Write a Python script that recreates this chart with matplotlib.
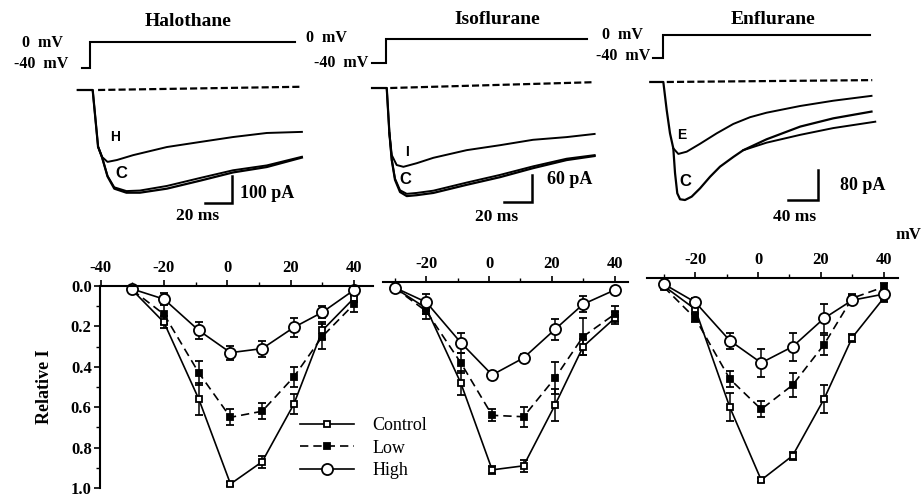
import matplotlib
matplotlib.use('Agg')
import matplotlib.pyplot as plt
from matplotlib.lines import Line2D

# ---------------- data: I-V curves (relative current) ----------------
volts = [-30, -20, -9, 1, 11, 21, 30, 40]

hal_ctrl = [0.02, 0.18, 0.56, 0.98, 0.87, 0.585, 0.22, 0.06]
hal_ctrl_err = [0.01, 0.03, 0.08, 0.01, 0.03, 0.05, 0.04, 0.02]
hal_low = [0.02, 0.14, 0.43, 0.65, 0.62, 0.45, 0.25, 0.09]
hal_low_err = [0.01, 0.05, 0.06, 0.04, 0.04, 0.05, 0.06, 0.04]
hal_high = [0.015, 0.065, 0.22, 0.33, 0.31, 0.205, 0.13, 0.02]
hal_high_err = [0.01, 0.03, 0.04, 0.035, 0.04, 0.045, 0.03, 0.01]

iso_ctrl = [0.03, 0.13, 0.50, 0.93, 0.91, 0.61, 0.32, 0.18]
iso_ctrl_err = [0.01, 0.03, 0.06, 0.02, 0.03, 0.08, 0.04, 0.03]
iso_low = [0.03, 0.145, 0.40, 0.66, 0.667, 0.476, 0.27, 0.16]
iso_low_err = [0.01, 0.04, 0.05, 0.03, 0.05, 0.08, 0.09, 0.04]
iso_high = [0.028, 0.10, 0.30, 0.46, 0.376, 0.235, 0.11, 0.04]
iso_high_err = [0.01, 0.04, 0.05, 0.02, 0.02, 0.05, 0.04, 0.01]

enf_ctrl = [0.04, 0.155, 0.64, 1.0, 0.88, 0.60, 0.295, 0.10]
enf_ctrl_err = [0.01, 0.02, 0.07, 0.01, 0.02, 0.07, 0.02, 0.02]
enf_low = [0.045, 0.20, 0.50, 0.65, 0.53, 0.33, 0.10, 0.045]
enf_low_err = [0.01, 0.02, 0.04, 0.04, 0.06, 0.05, 0.02, 0.02]
enf_high = [0.03, 0.12, 0.31, 0.42, 0.34, 0.20, 0.11, 0.08]
enf_high_err = [0.01, 0.02, 0.04, 0.07, 0.07, 0.07, 0.02, 0.02]

x_major = [-40, -20, 0, 20, 40]
x_minor = [-30, -10, 10, 30]
y_major = [0.0, 0.2, 0.4, 0.6, 0.8, 1.0]
y_labels = ['0.0', '0.2', '0.4', '0.6', '0.8', '1.0']
y_minor = [0.1, 0.3, 0.5, 0.7, 0.9]
series_labels = ['Control', 'Low', 'High']

# ---------------- data: current traces (ms, pA) ----------------
hal_t_ctrl = [-9, 2, 6, 9, 13, 18, 27, 37, 57, 82, 106, 131, 157]
hal_i_ctrl = [0, 0, -210, -250, -320, -365, -380, -380, -365, -335, -305, -285, -250]
hal_i_ctrl2 = [0, 0, -210, -250, -318, -360, -374, -372, -355, -325, -297, -279, -247]
hal_t_drug = [6, 9, 13, 20, 32, 57, 82, 106, 131, 157]
hal_i_drug = [-210, -248, -266, -259, -241, -211, -192, -174, -159, -155]
hal_t_base = [6, 157]
hal_i_base = [0, 12]
hal_t_step = [-6, 0, 0, 152]

iso_t_ctrl = [-10, 0.5, 2.4, 4.1, 6.4, 10, 14.8, 21.9, 33.8, 57.6, 81.4, 105, 129, 149]
iso_i_ctrl = [0, 0, -100, -160, -204, -231, -240, -238, -233, -215, -198, -178, -160, -151]
iso_i_ctrl2 = [0, 0, -100, -160, -201, -227, -235, -233, -228, -210, -193, -174, -157, -149]
iso_t_drug = [2.4, 4.1, 7.6, 12.4, 21.9, 33.8, 57.6, 81.4, 105, 129, 149]
iso_i_drug = [-100, -149, -171, -175, -167, -155, -138, -127, -115, -109, -102]
iso_t_base = [3, 149]
iso_i_base = [0, 13]
iso_t_step = [-10, 0, 0, 143.6]

enf_t_ctrl = [-17, 0.4, 4.9, 9.3, 13.7, 16, 19, 22.7, 29.3, 38.2, 49.3, 62.7, 76, 93.8, 107, 138, 183, 227, 278]
enf_i_ctrl = [0, 0, -75, -137, -177, -243, -297, -313, -315, -306, -284, -253, -226, -200, -182, -153, -119, -97, -79]
enf_t_ctrl2 = [107, 138, 183, 227, 283]
enf_i_ctrl2 = [-182, -162, -141, -123, -106]
enf_t_drug = [13.7, 20.4, 31.6, 49.3, 71.6, 93.7, 116, 138, 183, 227, 278]
enf_i_drug = [-177, -192, -186, -165, -137, -112, -94, -82, -64, -50, -37]
enf_t_base = [5, 279]
enf_i_base = [0, 5]
enf_t_step = [-13, 0, 0, 276]

step_v = [-40, -40, 0, 0]

# ---------------- figure ----------------
W, H = 921, 499
fig = plt.figure(figsize=(W / 100, H / 100), dpi=100)
SERIF = 'Liberation Serif'
SANS = 'Liberation Sans'


def ax_px(l, t, r, b):
    a = fig.add_axes([l / W, 1 - b / H, (r - l) / W, (b - t) / H])
    return a


def ftext(x, y, s, **kw):
    fig.text(x / W, 1 - y / H, s, **kw)


# ---------------- top: voltage protocols and current traces ----------------
trace_panels = [
    dict(title='Halothane', tpos=(188, 22),
         cur_rect=(70, 80, 310, 210), cur_xlim=(-14.8, 163), cur_ylim=(-444, 37),
         v_rect=(70, 30, 310, 80), v_ylim=(-58.5, 18.5),
         t_ctrl=hal_t_ctrl, i_ctrl=hal_i_ctrl, i_ctrl2=hal_i_ctrl2, t_ctrl2=None,
         t_drug=hal_t_drug, i_drug=hal_i_drug, t_base=hal_t_base, i_base=hal_i_base,
         t_step=hal_t_step, bar=(105.2, -418, 20, 100),
         v0=(63, 43), v40=(68, 64), ilab=('100 pA', 240, 193), tlab=('20 ms', 198, 216),
         dlet=('H', 115, 137, 10), clet=('C', 121, 173, 12)),
    dict(title='Isoflurane', tpos=(497, 20),
         cur_rect=(360, 75, 610, 215), cur_xlim=(-18.6, 160), cur_ylim=(-282, 28.9),
         v_rect=(360, 25, 610, 75), v_ylim=(-60, 23.3),
         t_ctrl=iso_t_ctrl, i_ctrl=iso_i_ctrl, i_ctrl2=iso_i_ctrl2, t_ctrl2=None,
         t_drug=iso_t_drug, i_drug=iso_i_drug, t_base=iso_t_base, i_base=iso_i_base,
         t_step=iso_t_step, bar=(104.3, -253, 20, 60),
         v0=(347, 38), v40=(368, 63), ilab=('60 pA', 547, 180), tlab=('20 ms', 497, 217),
         dlet=('I', 407, 152, 10), clet=('C', 405, 180, 12)),
    dict(title='Enflurane', tpos=(773, 20),
         cur_rect=(640, 70, 900, 215), cur_xlim=(-30.7, 316), cur_ylim=(-355, 32),
         v_rect=(640, 20, 900, 70), v_ylim=(-60.9, 26.1),
         t_ctrl=enf_t_ctrl, i_ctrl=enf_i_ctrl, i_ctrl2=enf_i_ctrl2, t_ctrl2=enf_t_ctrl2,
         t_drug=enf_t_drug, i_drug=enf_i_drug, t_base=enf_t_base, i_base=enf_i_base,
         t_step=enf_t_step, bar=(206.7, -315, 40, 80),
         v0=(643, 35), v40=(650, 56), ilab=('80 pA', 840, 185), tlab=('40 ms', 795, 217),
         dlet=('E', 682, 135, 10), clet=('C', 685, 182, 12)),
]

for p in trace_panels:
    ftext(*p['tpos'], p['title'], ha='center', va='center', family=SERIF,
          weight='bold', fontsize=14)
    # voltage protocol
    av = ax_px(*p['v_rect'])
    av.set_xlim(p['cur_xlim'])
    av.set_ylim(p['v_ylim'])
    av.axis('off')
    av.plot(p['t_step'], step_v, color='k', lw=1.5, solid_joinstyle='miter')
    ftext(p['v0'][0], p['v0'][1], '0  mV', ha='right', va='center', family=SERIF,
          weight='bold', fontsize=11.5)
    ftext(p['v40'][0], p['v40'][1], '-40  mV', ha='right', va='center', family=SERIF,
          weight='bold', fontsize=11.5)
    # currents
    ac = ax_px(*p['cur_rect'])
    ac.set_xlim(p['cur_xlim'])
    ac.set_ylim(p['cur_ylim'])
    ac.axis('off')
    ac.plot(p['t_base'], p['i_base'], color='k', lw=1.6, ls=(0, (3.2, 1.4)))
    ac.plot(p['t_ctrl'], p['i_ctrl'], color='k', lw=1.6)
    if p['t_ctrl2'] is None:
        ac.plot(p['t_ctrl'], p['i_ctrl2'], color='k', lw=1.4)
    else:
        ac.plot(p['t_ctrl2'], p['i_ctrl2'], color='k', lw=1.4)
    ac.plot(p['t_drug'], p['i_drug'], color='k', lw=1.4)
    bx, by, bt, bi = p['bar']
    ac.plot([bx - bt, bx, bx], [by, by, by + bi], color='k', lw=1.8,
            solid_joinstyle='miter')
    lab, lx, ly = p['ilab']
    ftext(lx, ly, lab, ha='left', va='center', family=SERIF, weight='bold', fontsize=13)
    lab, lx, ly = p['tlab']
    ftext(lx, ly, lab, ha='center', va='center', family=SERIF, weight='bold', fontsize=12.5)
    s, lx, ly, fs = p['dlet']
    ftext(lx, ly, s, ha='center', va='center', family=SANS, weight='bold', fontsize=fs)
    s, lx, ly, fs = p['clet']
    ftext(lx, ly, s, ha='center', va='center', family=SANS, weight='bold', fontsize=fs)

# ---------------- bottom: I-V relations ----------------
iv_panels = [
    dict(rect=(100, 286, 373, 488), xlim=(-40.2, 46), yaxis=True,
         data=[(hal_ctrl, hal_ctrl_err), (hal_low, hal_low_err), (hal_high, hal_high_err)]),
    dict(rect=(383, 282, 628, 484), xlim=(-33.8, 44.3), yaxis=False,
         data=[(iso_ctrl, iso_ctrl_err), (iso_low, iso_low_err), (iso_high, iso_high_err)]),
    dict(rect=(647, 278, 898, 480), xlim=(-35.4, 44.6), yaxis=False,
         data=[(enf_ctrl, enf_ctrl_err), (enf_low, enf_low_err), (enf_high, enf_high_err)]),
]

styles = [
    dict(ls='-', marker='s', ms=4.5, mfc='white'),
    dict(ls=(0, (5, 3)), marker='s', ms=4.8, mfc='black'),
    dict(ls='-', marker='o', ms=8, mfc='white'),
]

tick_font = dict(family=SERIF, weight='bold', size=12)

for p in iv_panels:
    l, t, r, b = p['rect']
    ax = ax_px(l, t, r, b)
    ax.set_xlim(p['xlim'])
    ax.set_ylim(1.0, 0.0)
    ax.patch.set_visible(False)
    for sp in ['right', 'bottom']:
        ax.spines[sp].set_visible(False)
    ax.spines['top'].set_linewidth(1.5)
    ax.spines['left'].set_linewidth(1.5)
    ax.spines['left'].set_visible(p['yaxis'])
    ax.xaxis.tick_top()
    xt = [v for v in x_major if p['xlim'][0] - 0.5 <= v <= p['xlim'][1]]
    ax.set_xticks(xt)
    ax.set_xticklabels([str(v) for v in xt], fontdict=tick_font)
    ax.set_xticks([v for v in x_minor if p['xlim'][0] <= v <= p['xlim'][1]], minor=True)
    ax.tick_params(axis='x', which='major', direction='out', length=4, width=1.2, pad=3,
                   top=True, bottom=False, labeltop=True, labelbottom=False)
    ax.tick_params(axis='x', which='minor', direction='out', length=3, width=1,
                   top=True, bottom=False)
    if p['yaxis']:
        ax.set_yticks(y_major)
        ax.set_yticklabels(y_labels, fontdict=tick_font)
        ax.set_yticks(y_minor, minor=True)
        ax.tick_params(axis='y', which='major', direction='out', length=4, width=1.2, pad=2)
        ax.tick_params(axis='y', which='minor', direction='out', length=3, width=1)
        ax.set_ylabel('Relative I', family=SERIF, weight='bold', fontsize=13, labelpad=13)
    else:
        ax.set_yticks([])
        ax.set_yticks([], minor=True)
    for (vals, errs), st in zip(p['data'], styles):
        cont = ax.errorbar(volts, vals, yerr=errs, color='k', lw=1.2, ls=st['ls'],
                           marker=st['marker'], ms=st['ms'], mfc=st['mfc'], mec='k',
                           mew=1.3, capsize=3, elinewidth=1.1, capthick=1.1)
        for art in cont.get_children():
            art.set_clip_on(False)

ftext(908, 235, 'mV', ha='center', va='center', family=SERIF, weight='bold', fontsize=12)

handles = [Line2D([], [], color='k', lw=1.2, ls=st['ls'], marker=st['marker'],
                  ms=st['ms'], mfc=st['mfc'], mec='k', mew=1.3) for st in styles]
fig.legend(handles, series_labels, loc='upper left', bbox_to_anchor=(300 / W, 1 - 417 / H),
           frameon=False, handlelength=3.0, handletextpad=1.0, labelspacing=0.31,
           borderpad=0, borderaxespad=0, numpoints=1,
           prop=dict(family=SERIF, size=13))

fig.savefig('out.png', dpi=100)
